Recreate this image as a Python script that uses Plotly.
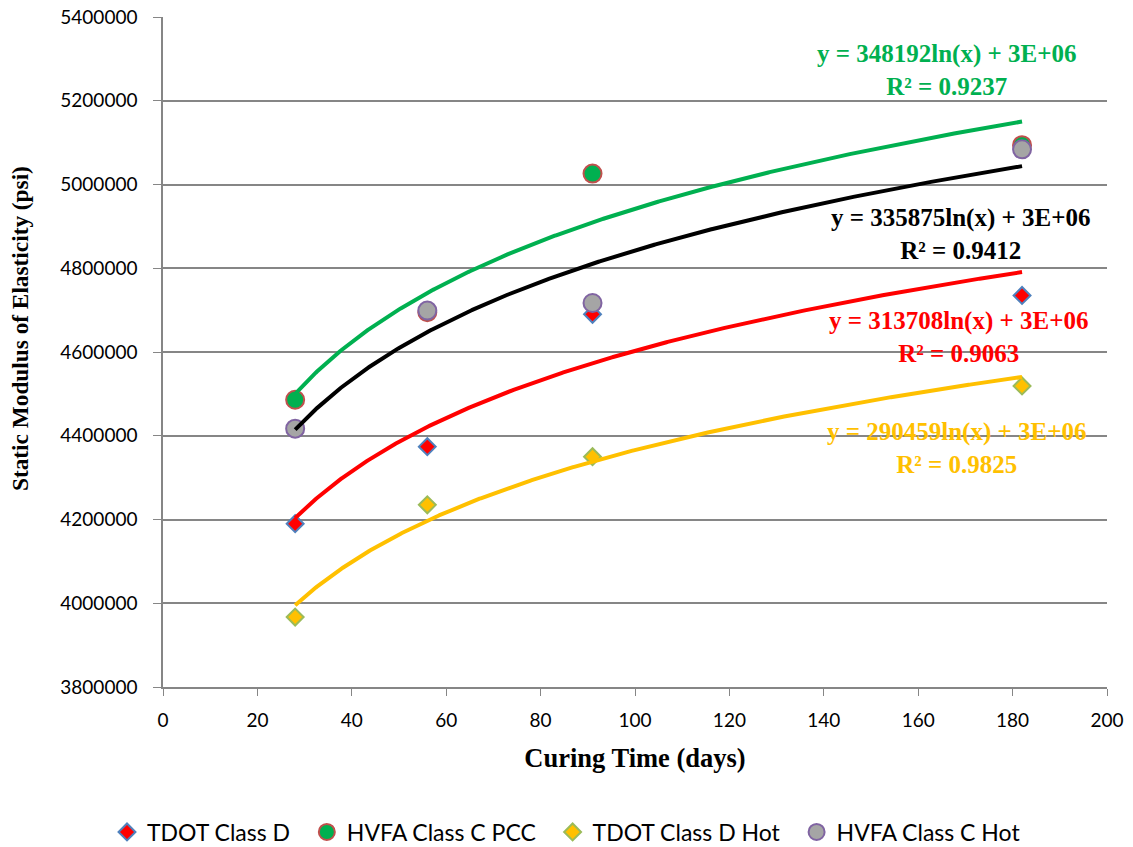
import numpy as np
import plotly.graph_objects as go

days = [28, 56, 91, 182]
tdot_d = [4190000, 4374000, 4690000, 4735000]
hvfa_pcc = [4486000, 4695000, 5026000, 5094000]
tdot_d_hot = [3967000, 4235000, 4350000, 4519000]
hvfa_hot = [4417000, 4699000, 4717000, 5084000]

names = ["TDOT Class D", "HVFA Class C PCC", "TDOT Class D Hot", "HVFA Class C Hot"]
series = [tdot_d, hvfa_pcc, tdot_d_hot, hvfa_hot]
symbols = ["diamond", "circle", "diamond", "circle"]
fills = ["#FF0000", "#00B050", "#FFC000", "#A5A5A5"]
outlines = ["#4F81BD", "#C0504D", "#9BBB59", "#8064A2"]
sizes = [13, 18, 13, 18]
trend_colors = ["#FF0000", "#00B050", "#FFC000", "#000000"]
equations = [
    ("y = 313708ln(x) + 3E+06<br>R² = 0.9063", 958, 337),
    ("y = 348192ln(x) + 3E+06<br>R² = 0.9237", 946, 70),
    ("y = 290459ln(x) + 3E+06<br>R² = 0.9825", 956, 448),
    ("y = 335875ln(x) + 3E+06<br>R² = 0.9412", 960, 234),
]

fig = go.Figure()
pad = "\u00a0\u00a0"
for i, (n, s, sym, f, o, sz) in enumerate(zip(names, series, symbols, fills, outlines, sizes)):
    label = n + (pad if i < len(names) - 1 else "")
    fig.add_trace(go.Scatter(x=days, y=s, mode="markers", name=label,
                             marker=dict(symbol=sym, size=sz, color=f,
                                         line=dict(color=o, width=2))))

xs = np.linspace(days[0], days[-1], 600)
for s, c in zip(series, trend_colors):
    a, b = np.polyfit(np.log(days), s, 1)
    fig.add_trace(go.Scatter(x=xs, y=a * np.log(xs) + b, mode="lines",
                             line=dict(color=c, width=4), showlegend=False,
                             hoverinfo="skip"))

W, H = 1133, 847
L, R, T = 163, 26, 17
PH = 670
B = H - T - PH
PW = W - L - R
for (txt, px, py), c in zip(equations, trend_colors):
    fig.add_annotation(text="<b>" + txt.replace("<br>", "</b><br><b>") + "</b>",
                       xref="paper", yref="paper",
                       x=(px - L) / PW, y=1 - (py - T) / PH,
                       showarrow=False, align="center",
                       font=dict(family="Liberation Serif", size=25, color=c),
                       xanchor="center", yanchor="middle")

# y-axis title (placed slightly above plot centre, as in the reference)
fig.add_annotation(text="<b>Static Modulus of Elasticity (psi)</b>",
                   xref="paper", yref="paper",
                   x=(20 - L) / PW, y=1 - (329 - T) / PH,
                   textangle=-90, showarrow=False,
                   xanchor="center", yanchor="middle",
                   font=dict(family="Liberation Serif", size=23.3, color="black"))

fig.update_layout(
    width=W, height=H,
    margin=dict(l=L, r=R, t=T, b=B),
    plot_bgcolor="white", paper_bgcolor="white",
    font=dict(family="Lato", size=19, color="black"),
    xaxis=dict(range=[0, 200], dtick=20, showgrid=False, zeroline=False,
               automargin=False, ticklabeloverflow="allow",
               showline=True, linecolor="#868686", linewidth=1.5,
               ticks="outside", ticklen=7, tickcolor="#868686",
               ticklabelstandoff=8,
               title=dict(text="<b>Curing Time (days)</b>", standoff=19,
                          font=dict(family="Liberation Serif", size=26.5))),
    yaxis=dict(range=[3800000, 5400000], dtick=200000, tickformat="d",
               automargin=False, ticklabeloverflow="allow",
               showgrid=True, gridcolor="#868686", gridwidth=1.5,
               zeroline=False, showline=True, linecolor="#868686", linewidth=1.5,
               ticks="outside", ticklen=8, tickcolor="#868686",
               ticklabelstandoff=12),
    legend=dict(orientation="h", xref="container", yref="container",
                x=107 / W, xanchor="left",
                y=1 - 832 / H, yanchor="middle",
                font=dict(family="Lato", size=23), itemwidth=30,
                traceorder="normal"),
)

fig.write_html("out.html", config={"displayModeBar": False},
               post_script="document.body.style.margin='0';")
